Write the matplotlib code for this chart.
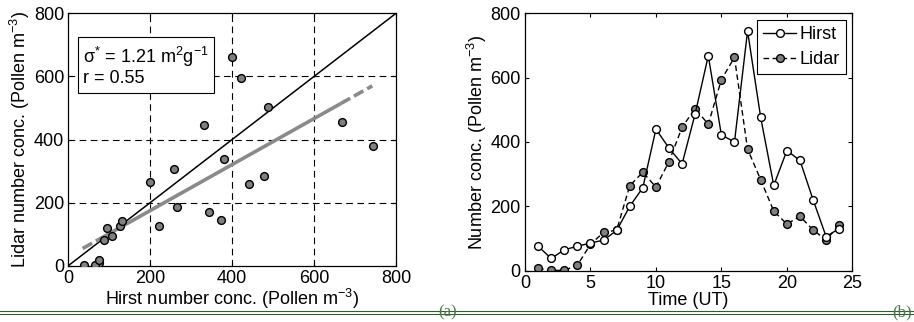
import numpy as np
import matplotlib
matplotlib.use("Agg")
import matplotlib.pyplot as plt
from matplotlib.lines import Line2D

plt.rcParams['font.family'] = ['Liberation Sans', 'DejaVu Sans']
plt.rcParams['mathtext.fontset'] = 'custom'
plt.rcParams['mathtext.rm'] = 'Liberation Sans'
plt.rcParams['mathtext.it'] = 'Liberation Sans'

# ---- data ----
hours = [1, 2, 3, 4, 5, 6, 7, 8, 9, 10, 11, 12,
         13, 14, 15, 16, 17, 18, 19, 20, 21, 22, 23, 24]
hirst = [76, 38, 65, 76, 86, 95, 125, 200, 258, 440, 381, 332,
         488, 668, 422, 400, 745, 477, 265, 373, 343, 221, 106, 131]
lidar = [7, 1, 1, 17, 82, 119, 126, 264, 306, 260, 339, 446,
         504, 455, 594, 663, 378, 283, 185, 145, 169, 127, 95, 143]

fit_slope = 0.729
fit_intercept = 29.0
fit_x_start, fit_x_solid0, fit_x_solid1, fit_x_end = 35, 85, 665, 742

ticks_a = [0, 200, 400, 600, 800]
ticks_b_x = [0, 5, 10, 15, 20, 25]
ticks_b_y = [0, 200, 400, 600, 800]
annot_text = "σ$^{*}$ = 1.21 m$^{2}$g$^{-1}$\nr = 0.55"

W, H = 914, 322
fig = plt.figure(figsize=(W / 100, H / 100), dpi=100)

def ax_rect(l, r, t, b):
    return [l / W, 1 - b / H, (r - l) / W, (b - t) / H]

FS = 13
gray = '#808080'

# ---- panel (a) ----
ax1 = fig.add_axes(ax_rect(68.3, 396, 13.3, 265.7))
ax1.set_xlim(0, 800)
ax1.set_ylim(0, 800)
for v in [200, 400, 600]:
    ax1.axvline(v, color='black', ls=(0, (6, 4)), lw=0.8, zorder=1)
    ax1.axhline(v, color='black', ls=(0, (6, 4)), lw=0.8, zorder=1)
ax1.plot([0, 800], [0, 800], color='black', lw=1.1, zorder=2)
fx = np.array([fit_x_start, fit_x_solid0])
ax1.plot(fx, fit_slope * fx + fit_intercept, color='#8a8a8a', lw=2.6,
         ls=(0, (3, 1.2)), solid_capstyle='butt', dash_capstyle='butt', zorder=3)
fx = np.array([fit_x_solid0, fit_x_solid1])
ax1.plot(fx, fit_slope * fx + fit_intercept, color='#8a8a8a', lw=2.6,
         solid_capstyle='butt', zorder=3)
fx = np.array([fit_x_solid1, fit_x_end])
ax1.plot(fx, fit_slope * fx + fit_intercept, color='#8a8a8a', lw=2.6,
         ls=(0, (3, 1.2)), solid_capstyle='butt', dash_capstyle='butt', zorder=3)
ax1.plot(hirst, lidar, ls='none', marker='o', ms=5.6, mfc=gray, mec='black',
         mew=1.0, zorder=4)
ax1.set_xticks(ticks_a)
ax1.set_yticks(ticks_a)
ax1.tick_params(direction='in', top=True, right=True, labelsize=FS, length=3, pad=3)
ax1.set_xlabel("Hirst number conc. (Pollen m$^{-3}$)", fontsize=FS, labelpad=0)
ax1.set_ylabel("Lidar number conc. (Pollen m$^{-3}$)", fontsize=FS, labelpad=1)
ax1.text(0.045, 0.875, annot_text, transform=ax1.transAxes, fontsize=FS,
         va='top', ha='left', linespacing=1.1,
         bbox=dict(boxstyle='square,pad=0.3', fc='white', ec='black', lw=0.8))
for s in ax1.spines.values():
    s.set_linewidth(0.9)

# ---- panel (b) ----
ax2 = fig.add_axes(ax_rect(525, 852.3, 13.3, 270.7))
ax2.set_xlim(0, 25)
ax2.set_ylim(0, 800)
ax2.plot(hours, hirst, color='black', lw=1.0, marker='o', ms=5.6, mfc='white',
         mec='black', mew=1.0, label='Hirst', zorder=3)
ax2.plot(hours, lidar, color='black', lw=1.0, ls=(0, (4, 2.5)), marker='o', ms=5.6,
         mfc=gray, mec='black', mew=1.0, label='Lidar', zorder=2)
ax2.set_xticks(ticks_b_x)
ax2.set_yticks(ticks_b_y)
ax2.tick_params(direction='in', top=True, right=True, labelsize=FS, length=3, pad=3)
ax2.set_xlabel("Time (UT)", fontsize=FS, labelpad=0)
ax2.set_ylabel("Number conc. (Pollen m$^{-3}$)", fontsize=FS, labelpad=1)
leg = ax2.legend(loc='upper right', fontsize=FS, frameon=True, fancybox=False,
                 edgecolor='black', framealpha=1, handlelength=1.8,
                 handletextpad=0.2, borderpad=0.35, labelspacing=0.45,
                 borderaxespad=0.35)
leg.get_frame().set_linewidth(0.8)
for s in ax2.spines.values():
    s.set_linewidth(0.9)

# ---- bottom rule and panel letters ----
green = '#2d5f2d'
for yy in [311.0, 313.5]:
    fig.add_artist(Line2D([0, 1], [1 - yy / H, 1 - yy / H], color=green, lw=0.8,
                          transform=fig.transFigure))
for xx, lab in [(448, '(a)'), (902, '(b)')]:
    fig.text(xx / W, 1 - 312 / H, lab, ha='center', va='center', fontsize=12,
             color='#4a7a4a', family='Liberation Serif')

fig.savefig('out.png', dpi=100)
